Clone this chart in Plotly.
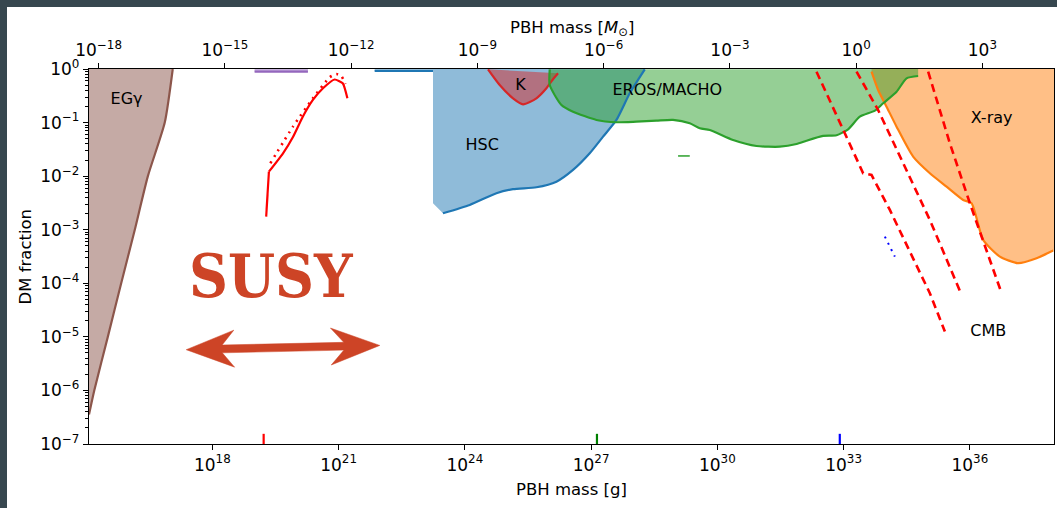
import numpy as np
import plotly.graph_objects as go

# ---------------- data (log10 mass [g], log10 DM fraction) ----------------
egg_logM = [15.07, 15.195, 15.517, 15.835, 16.158, 16.469, 16.87, 17.06]
egg_logf = [-6.45, -6.0, -5.0, -4.0, -3.0, -2.0, -1.0, 0.0]

femto_logM = [19.005, 20.272]
femto_logf = [-0.05, -0.05]

hsc_top_logM = [21.858, 23.244]
hsc_top_logf = [-0.037, -0.037]
hsc_logM = [23.244, 23.481, 24.116, 24.751, 25.145, 25.701, 26.177, 26.571,
            26.968, 27.285, 27.603, 27.919, 28.276]
hsc_logf = [-2.506, -2.692, -2.537, -2.319, -2.244, -2.207, -2.103, -1.884,
            -1.573, -1.263, -0.951, -0.453, -0.006]

k_logM = [24.551, 24.829, 25.145, 25.383, 25.701, 25.939, 26.082, 26.215]
k_logf = [-0.006, -0.299, -0.547, -0.659, -0.547, -0.36, -0.205, -0.080]

eros_logM = [26.018, 26.018, 26.296, 26.571, 27.128, 27.603, 28.078, 28.554,
             28.948, 29.345, 29.583, 29.821, 30.375, 30.931, 31.485, 31.882,
             32.119, 32.514, 32.833, 33.108, 33.386, 33.743, 33.940, 34.259,
             34.496, 34.772]
eros_logf = [-0.006, -0.299, -0.672, -0.797, -0.951, -0.994, -0.983, -0.965,
             -0.951, -1.013, -1.106, -1.138, -1.325, -1.437, -1.450, -1.399,
             -1.338, -1.250, -1.237, -1.125, -0.890, -0.778, -0.640, -0.424,
             -0.174, -0.131]
eros_bit_logM = [29.067, 29.345]
eros_bit_logf = [-1.623, -1.623]

xray_logM = [33.664, 33.821, 34.021, 34.259, 34.653, 35.050, 35.447, 35.842,
             36.041, 36.317, 36.714, 37.149, 37.586, 37.981]
xray_logf = [-0.050, -0.392, -0.703, -1.076, -1.636, -1.946, -2.196, -2.444,
             -2.506, -3.190, -3.502, -3.625, -3.532, -3.390]

cmb1_logM = [32.357, 32.989, 33.465, 33.664, 34.100, 34.575, 35.050, 35.407]
cmb1_logf = [-0.050, -1.138, -1.946, -1.978, -2.631, -3.409, -4.185, -4.901]
cmb2_logM = [33.308, 33.821, 34.416, 35.050, 35.804]
cmb2_logf = [-0.050, -0.765, -1.759, -2.817, -4.216]
cmb3_logM = [35.010, 35.525, 36.001, 36.398, 36.755]
cmb3_logf = [-0.050, -1.386, -2.506, -3.377, -4.185]

blue_dot_logM = [33.981, 34.218]
blue_dot_logf = [-3.129, -3.502]

red_solid_logM = [19.28, 19.345, 19.68, 19.92, 20.15, 20.39, 20.63, 20.907, 21.10, 21.21]
red_solid_logf = [-2.755, -1.916, -1.573, -1.263, -0.89, -0.578, -0.36, -0.196, -0.267, -0.547]
red_dot_logM = [19.379, 19.916, 20.391, 20.788, 20.947, 21.066, 21.161]
red_dot_logf = [-1.759, -1.076, -0.547, -0.155, -0.093, -0.131, -0.280]

rug_logM = [19.22, 27.14, 32.91]
rug_colors = ["#ff0000", "#008000", "#0000ff"]
rug_len = 0.19  # decades

labels = ["EGγ", "K", "EROS/MACHO", "HSC", "X-ray", "CMB"]
label_logM = [15.963, 25.321, 28.81, 24.413, 36.517, 36.436]
label_logf = [-0.578, -0.32, -0.41, -1.431, -0.933, -4.901]

susy_logM = [17.38, 21.98]
susy_logf = [-5.24, -5.16]
susy_text_logM = 19.40
susy_text_logf = -3.87

g_tick_exp = [18, 21, 24, 27, 30, 33, 36]
msun_tick_exp = [-18, -15, -12, -9, -6, -3, 0, 3]
f_tick_exp = [0, -1, -2, -3, -4, -5, -6, -7]
f_minor_mult = [2, 3, 4, 5, 6, 7, 8, 9]

LOG_MSUN_G = np.log10(1.989e33)
X_RANGE = [15.07, 38.0]
Y_RANGE = [-7.0, 0.0]

# ---------------- layout geometry ----------------
W, H = 1057, 508
ML, MR, MT, MB = 89, 3, 69, 64
PW, PH = W - ML - MR, H - MT - MB
PXX = PW / (X_RANGE[1] - X_RANGE[0])
PXY = PH / (Y_RANGE[1] - Y_RANGE[0])

TAB_BLUE = "#1f77b4"; TAB_RED = "#d62728"; TAB_GREEN = "#2ca02c"
TAB_ORANGE = "#ff7f0e"; TAB_BROWN = "#8c564b"; TAB_PURPLE = "#9467bd"
SUSY_COL = "#cd4426"


def rgba(hexc, a):
    h = hexc.lstrip("#")
    return "rgba(%d,%d,%d,%.2f)" % (int(h[0:2], 16), int(h[2:4], 16), int(h[4:6], 16), a)


def P(v):
    return 10 ** np.asarray(v, dtype=float)


fig = go.Figure()


def fill_poly(lm, lf, color, alpha=0.5):
    fig.add_trace(go.Scatter(x=P(lm), y=P(lf), mode="lines", fill="toself",
                             fillcolor=rgba(color, alpha), line=dict(width=0),
                             hoverinfo="skip", showlegend=False))


def line(lm, lf, color, width=2.2, dash="solid", smooth=0.0):
    ld = dict(color=color, width=width, dash=dash)
    if smooth:
        ld.update(shape="spline", smoothing=smooth)
    fig.add_trace(go.Scatter(x=P(lm), y=P(lf), mode="lines", line=ld,
                             hoverinfo="skip", showlegend=False))


top = Y_RANGE[1]
# fills
fill_poly(egg_logM + [X_RANGE[0]], egg_logf + [top], TAB_BROWN)
fill_poly(femto_logM + femto_logM[::-1], femto_logf + [top, top], TAB_PURPLE)
fill_poly(hsc_top_logM + hsc_logM + [hsc_logM[-1], hsc_top_logM[0]],
          hsc_top_logf + hsc_logf + [top, top], TAB_BLUE)
fill_poly(k_logM, k_logf, TAB_RED)
fill_poly(xray_logM + [X_RANGE[1], X_RANGE[1], xray_logM[0]],
          xray_logf + [xray_logf[-1], top, top], TAB_ORANGE)
fill_poly(eros_logM + [eros_logM[-1]], eros_logf + [top], TAB_GREEN)

# boundary lines
line(egg_logM, egg_logf, TAB_BROWN, smooth=0.6)
line(femto_logM, femto_logf, TAB_PURPLE)
line(hsc_top_logM, hsc_top_logf, TAB_BLUE)
line(hsc_logM[1:], hsc_logf[1:], TAB_BLUE, smooth=0.6)
line(k_logM, k_logf, TAB_RED, smooth=0.6)
line(xray_logM, xray_logf, TAB_ORANGE, smooth=0.6)
line(eros_logM, eros_logf, TAB_GREEN, smooth=0.6)
line(eros_bit_logM, eros_bit_logf, TAB_GREEN, width=1.5)

# CMB dashed
for lm, lf in [(cmb1_logM, cmb1_logf), (cmb2_logM, cmb2_logf), (cmb3_logM, cmb3_logf)]:
    line(lm, lf, "#ff0000", width=2.6, dash="8px,5px")
line(blue_dot_logM, blue_dot_logf, "#0000ff", width=2, dash="2px,5px")

# red curves (sharp kink at the bottom, smooth peak)
line(red_solid_logM[:2], red_solid_logf[:2], "#ff0000", width=2.2)
line(red_solid_logM[1:], red_solid_logf[1:], "#ff0000", width=2.2, smooth=0.5)
line(red_dot_logM, red_dot_logf, "#ff0000", width=2.6, dash="2px,5px", smooth=0.5)

# rug marks
for lm, c in zip(rug_logM, rug_colors):
    line([lm, lm], [Y_RANGE[0], Y_RANGE[0] + rug_len], c, width=2.2)

# region labels
fig.add_trace(go.Scatter(x=P(label_logM), y=P(label_logf), mode="text", text=labels,
                         textposition="middle center",
                         textfont=dict(family="DejaVu Sans", size=16, color="black"),
                         hoverinfo="skip", showlegend=False))

# SUSY double arrow (polygon built in pixel frame from the mass range)
p1 = np.array([(susy_logM[1] - susy_logM[0]) * PXX, -(susy_logf[1] - susy_logf[0]) * PXY])
L = np.hypot(*p1)
u = p1 / L
n = np.array([-u[1], u[0]])
uv = [(0, 0), (48, -18.5), (36, -3.9), (L - 36, -3.9), (L - 49, -18.5), (L, 0),
      (L - 49, 18.5), (L - 36, 3.9), (36, 3.9), (48, 18.5), (0, 0)]
ax_lm, ax_lf = [], []
for a, b in uv:
    px = u * a + n * b
    ax_lm.append(susy_logM[0] + px[0] / PXX)
    ax_lf.append(susy_logf[0] - px[1] / PXY)
fig.add_trace(go.Scatter(x=P(ax_lm), y=P(ax_lf), mode="lines", fill="toself",
                         fillcolor=SUSY_COL, line=dict(color=SUSY_COL, width=0.5),
                         hoverinfo="skip", showlegend=False))

# invisible helpers so the top axis and the minor-tick axis are drawn
fig.add_trace(go.Scatter(x=P(msun_tick_exp), y=[P(Y_RANGE[0])] * len(msun_tick_exp),
                         xaxis="x2", mode="markers", marker=dict(opacity=0),
                         hoverinfo="skip", showlegend=False))
fig.add_trace(go.Scatter(x=P(g_tick_exp), y=[P(Y_RANGE[0])] * len(g_tick_exp),
                         yaxis="y2", mode="markers", marker=dict(opacity=0),
                         hoverinfo="skip", showlegend=False))

fig.add_annotation(x=susy_text_logM, y=susy_text_logf, xref="x", yref="y",
                   text="<b>SUSY</b>", showarrow=False,
                   font=dict(family="DejaVu Serif Condensed, DejaVu Serif", size=60, color=SUSY_COL))


def sup(e):
    return "10<sup>%s</sup>" % (("\u2212%d" % -e) if e < 0 else "%d" % e)


axis_common = dict(type="log", showgrid=False, zeroline=False, showline=True,
                   linecolor="black", linewidth=1.3, ticks="outside", ticklen=5,
                   tickwidth=1.2, tickcolor="black", automargin=False,
                   tickfont=dict(family="DejaVu Sans", size=17, color="black"),
                   tickmode="array")

minor_vals = [m * 10.0 ** e for e in f_tick_exp[1:] for m in f_minor_mult]

fig.update_layout(
    width=W, height=H, autosize=False,
    margin=dict(l=ML, r=MR, t=MT, b=MB, pad=0),
    paper_bgcolor="white", plot_bgcolor="white",
    font=dict(family="DejaVu Sans", color="black"),
    xaxis=dict(**axis_common, range=X_RANGE,
               tickvals=list(P(g_tick_exp)), ticktext=[sup(e) for e in g_tick_exp]),
    xaxis2=dict(**axis_common, range=[X_RANGE[0] - LOG_MSUN_G, X_RANGE[1] - LOG_MSUN_G],
                overlaying="x", side="top", anchor="y",
                tickvals=list(P(msun_tick_exp)), ticktext=[sup(e) for e in msun_tick_exp]),
    yaxis=dict(**axis_common, range=Y_RANGE, mirror=True,
               tickvals=list(P(f_tick_exp)), ticktext=[sup(e) for e in f_tick_exp]),
    yaxis2=dict(type="log", range=Y_RANGE, overlaying="y", side="left", anchor="x",
                showgrid=False, zeroline=False, showline=False, automargin=False,
                tickmode="array", tickvals=minor_vals, ticks="outside", ticklen=3.5,
                tickwidth=1, tickcolor="black", showticklabels=False),
)


def px2paper_x(px):
    return (px - ML) / PW


def px2paper_y(py):
    return (H - MB - py) / PH


# axis titles
title_font = dict(family="DejaVu Sans", size=16.5, color="black")
fig.add_annotation(text="PBH mass [g]", xref="paper", yref="paper", showarrow=False,
                   x=0.5, y=px2paper_y(489), xanchor="center", yanchor="middle", font=title_font)
fig.add_annotation(text="PBH mass [<i>M</i><sub>\u2299</sub>]", xref="paper", yref="paper",
                   showarrow=False, x=0.5, y=px2paper_y(28), xanchor="center", yanchor="middle",
                   font=title_font)
fig.add_annotation(text="DM fraction", xref="paper", yref="paper", showarrow=False,
                   x=px2paper_x(25), y=0.5, xanchor="center", yanchor="middle",
                   textangle=-90, font=title_font)

# dark frame of the screenshot (top and left edges)
BORDER = 7
DARK = "#37474f"
fig.add_shape(type="rect", xref="paper", yref="paper", layer="above",
              x0=px2paper_x(0), x1=px2paper_x(W), y0=px2paper_y(BORDER), y1=px2paper_y(0),
              fillcolor=DARK, line=dict(width=0))
fig.add_shape(type="rect", xref="paper", yref="paper", layer="above",
              x0=px2paper_x(0), x1=px2paper_x(BORDER), y0=px2paper_y(H), y1=px2paper_y(0),
              fillcolor=DARK, line=dict(width=0))

fig.write_html("out.html")
